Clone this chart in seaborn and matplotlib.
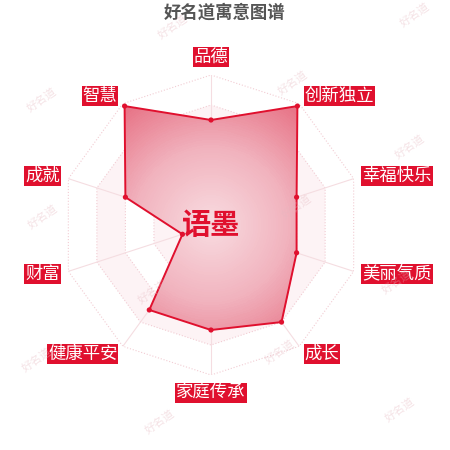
import numpy as np
import seaborn as sns
import matplotlib
matplotlib.use('Agg')
import matplotlib.pyplot as plt
from matplotlib.colors import LinearSegmentedColormap

# data
categories = ['品德', '创新独立', '幸福快乐', '美丽气质', '成长',
              '家庭传承', '健康平安', '财富', '成就', '智慧']
scores = [70, 98, 60, 60, 80, 70, 70, 20, 60, 98]
max_score = 100
name = '语墨'
title = '好名道寓意图谱'
watermark = '好名道'
watermark_pos = [(173, 27), (415, 15), (42, 100), (293, 83), (410, 147),
                 (43, 217), (297, 207), (153, 292), (397, 282), (37, 360),
                 (280, 352), (160, 422), (400, 410)]

sns.set_theme(style='white')
plt.rcParams['font.family'] = ['Noto Sans CJK SC', 'DejaVu Sans']

RED = '#e0102e'
W, H = 450, 450
fig = plt.figure(figsize=(4.5, 4.5), dpi=100)
cx, cy, R = 211, 225, 150
ax = fig.add_axes([(cx - R) / W, (H - cy - R) / H, 2 * R / W, 2 * R / H],
                  projection='polar')
ax.set_theta_offset(np.pi / 2)
ax.set_theta_direction(-1)
ax.set_ylim(0, 1)
ax.set_xticks([])
ax.set_yticks([])
ax.grid(False)
ax.spines['polar'].set_visible(False)
ax.patch.set_alpha(0)

n = len(categories)
angles = np.linspace(0, 2 * np.pi, n, endpoint=False)
closed = np.append(angles, angles[0])

# split area bands + dotted rings
levels = [1.0, 0.8, 0.6, 0.4, 0.2]
band_colors = ['#ffffff', '#fdf3f5', '#ffffff', '#fdf3f5', '#ffffff']
for lv, c in zip(levels, band_colors):
    ax.fill(closed, [lv] * (n + 1), color=c, lw=0, zorder=0)
    ax.plot(closed, [lv] * (n + 1), color='#f2ccd3', lw=0.8, ls=':', zorder=1)
for a in angles:
    ax.plot([a, a], [0, 1], color='#f5dde1', lw=0.8, zorder=1)

# gradient fill clipped to the data polygon
vals = np.array(scores) / max_score
vals_c = np.append(vals, vals[0])
poly = ax.fill(closed, vals_c, facecolor='none', edgecolor='none', zorder=2)[0]
cmap = LinearSegmentedColormap.from_list('g', ['#f8dbe0', '#f1b3be', '#e66d81'])
tt, rr = np.meshgrid(np.linspace(0, 2 * np.pi, 181), np.linspace(0, 1, 61))
mesh = ax.pcolormesh(tt, rr, rr[:-1, :-1], cmap=cmap, vmin=0, vmax=1,
                     shading='flat', zorder=2)
mesh.set_clip_path(poly)

ax.plot(closed, vals_c, color=RED, lw=1.4, zorder=3)
sns.scatterplot(x=angles, y=vals, ax=ax, color=RED, s=14, edgecolor='none',
                zorder=4, legend=False)

# axis labels
for a, lab in zip(angles, categories):
    s, c = np.sin(a), np.cos(a)
    if abs(s) < 0.01:
        ha, va = 'center', ('bottom' if c > 0 else 'top')
    else:
        ha, va = ('left' if s > 0 else 'right'), 'center'
    ax.text(a, 1.06, lab, ha=ha, va=va, color='white', fontsize=12.5,
            bbox=dict(boxstyle='square,pad=0.05', fc=RED, ec='none'),
            zorder=6)

ax.text(0, 0, name, ha='center', va='center', color=RED, fontsize=21,
        fontweight='bold', zorder=5)

fig.text(0.5, 1 - 13 / H, title, ha='center', va='center', fontsize=12.5,
         fontweight='bold', color='#555555')

for x, y in watermark_pos:
    fig.text(x / W, 1 - y / H, watermark, ha='center', va='center',
             rotation=35, fontsize=8, color='#e6b8c0', alpha=0.4, zorder=10)

fig.savefig('out.png', dpi=100, facecolor='white')
